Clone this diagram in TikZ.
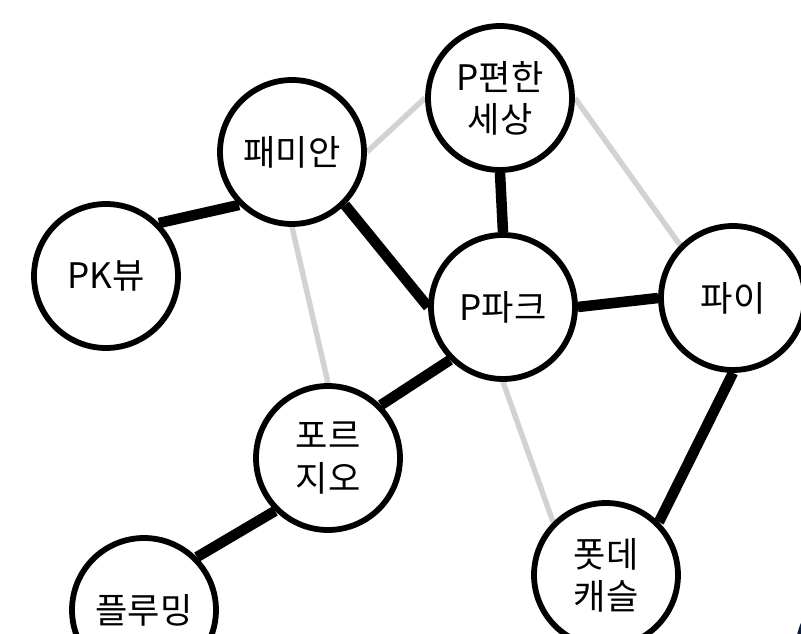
\documentclass[tikz,border=0pt]{standalone}
\usepackage{fontspec}
\setmainfont{Noto Sans CJK KR}
\usetikzlibrary{backgrounds}
\definecolor{weakgray}{HTML}{D2D2D2}
\definecolor{edgenavy}{HTML}{0B1B3C}
\tikzset{
  apt/.style={circle,draw=black,line width=3.3pt,fill=white,minimum size=2.88cm,
    inner sep=0pt,align=center,font=\fontsize{20}{24}\selectfont},
  strong/.style={draw=black,line width=6pt},
  weak/.style={draw=weakgray,line width=3.1pt}
}
\begin{document}
\begin{tikzpicture}[x=0.02cm,y=-0.02cm]
\useasboundingbox (0,0) rectangle (801,634);
\node[apt] (pkv) at (106,276) {PK뷰};
\node[apt] (pamian) at (292,152) {패미안};
\node[apt] (pfh) at (500,98) {P편한\\세상};
\node[apt] (ppark) at (503,307) {P파크};
\node[apt] (pai) at (733,298) {파이};
\node[apt] (forzio) at (328,458) {포르\\지오};
\node[apt] (pluming) at (144,610) {플루밍};
\node[apt] (potde) at (606,575) {폿데\\캐슬};
\draw[edgenavy,line width=3.3pt] (870,652) circle (72);
\begin{scope}[on background layer]
\draw[weak] (pamian.east) to (pfh.west);
\draw[weak] (pfh.east) to (pai.north west);
\draw[weak] (pamian.south) to (forzio.north);
\draw[weak] (ppark.south) to (potde.north west);
\draw[strong] (pkv.north east) to (pamian.south west);
\draw[strong] (pamian.south east) to (ppark.west);
\draw[strong] (pfh.south) to (ppark.north);
\draw[strong] (ppark.east) to (pai.west);
\draw[strong] (ppark.south west) to (forzio.north east);
\draw[strong] (forzio.south west) to (pluming.north east);
\draw[strong] (pai.south) to (potde.north east);
\end{scope}
\end{tikzpicture}
\end{document}
